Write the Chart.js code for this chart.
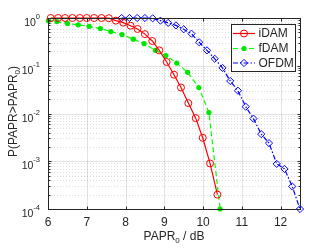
<!DOCTYPE html>
<html>
<head>
<meta charset="utf-8">
<script src="https://cdn.jsdelivr.net/npm/chart.js@4.4.0/dist/chart.umd.min.js"></script>
<style>
  html, body { margin: 0; padding: 0; background: #fff; overflow: hidden; }
  canvas { display: block; }
</style>
</head>
<body>
<canvas id="paprChart" width="332" height="249"></canvas>
<script>
// Data
var idamX = [6.07, 6.26, 6.44, 6.63, 6.82, 7.0, 7.19, 7.38, 7.57, 7.75, 7.94, 8.13, 8.31, 8.5, 8.69, 8.87, 9.06, 9.25, 9.43, 9.62, 9.81, 9.99, 10.18, 10.37];
var idamY = [1, 1, 1, 1, 1, 1, 1, 1, 0.99, 0.88, 0.8, 0.69, 0.59, 0.46, 0.33, 0.21, 0.12, 0.065, 0.035, 0.0165, 0.008, 0.0031, 0.0009, 0.0002];

var fdamX = [6.01, 6.23, 6.5, 6.78, 7.06, 7.35, 7.62, 7.91, 8.2, 8.48, 8.77, 9.04, 9.32, 9.6, 9.89, 10.15, 10.44];
var fdamY = [0.88, 0.84, 0.77, 0.72, 0.67, 0.6, 0.52, 0.45, 0.36, 0.29, 0.21, 0.163, 0.114, 0.073, 0.035, 0.0105, 0.0001];

var ofdmX = [7.9, 8.1, 8.3, 8.5, 8.7, 8.9, 9.1, 9.3, 9.5, 9.7, 9.9, 10.1, 10.3, 10.5, 10.7, 10.9, 11.1, 11.3, 11.5, 11.7, 11.9, 12.1, 12.3, 12.5];
var ofdmY = [1, 1, 1, 1, 0.985, 0.88, 0.79, 0.7, 0.58, 0.47, 0.31, 0.21, 0.14, 0.09, 0.048, 0.03, 0.0139, 0.0078, 0.0037, 0.0024, 0.00088, 0.00069, 0.000296, 0.0001];

var seriesNames = ['iDAM', 'fDAM', 'OFDM'];
var xTicks = [6, 7, 8, 9, 10, 11, 12];
var yTicks = [1e-4, 1e-3, 1e-2, 1e-1, 1];
var yExps = ['-4', '-3', '-2', '-1', '0'];

function toPoints(xs, ys) {
    return xs.map(function(x, i) { return { x: x, y: ys[i] }; });
}

var axisColor = '#262626';
var font = '"Liberation Sans", Arial, sans-serif';

// grid under the data
var gridPlugin = {
    id: 'matlabGrid',
    beforeDatasetsDraw: function(chart) {
        var ctx = chart.ctx, a = chart.chartArea;
        var xs = chart.scales.x, ys = chart.scales.y;
        ctx.save();
        ctx.lineWidth = 1;
        // minor y grid (dotted)
        ctx.strokeStyle = 'rgba(38,38,38,0.16)';
        ctx.setLineDash([1, 2]);
        for (var d = -4; d < 0; d++) {
            for (var m = 2; m <= 9; m++) {
                var py = Math.round(ys.getPixelForValue(m * Math.pow(10, d))) + 0.5;
                ctx.beginPath(); ctx.moveTo(a.left, py); ctx.lineTo(a.right, py); ctx.stroke();
            }
        }
        ctx.setLineDash([]);
        ctx.strokeStyle = 'rgba(38,38,38,0.13)';
        yTicks.forEach(function(v) {
            var py = Math.round(ys.getPixelForValue(v)) + 0.5;
            ctx.beginPath(); ctx.moveTo(a.left, py); ctx.lineTo(a.right, py); ctx.stroke();
        });
        xTicks.forEach(function(v) {
            var px = Math.round(xs.getPixelForValue(v)) + 0.5;
            ctx.beginPath(); ctx.moveTo(px, a.top); ctx.lineTo(px, a.bottom); ctx.stroke();
        });
        ctx.restore();
    }
};

// box, ticks, labels, legend on top
var framePlugin = {
    id: 'matlabFrame',
    afterDatasetsDraw: function(chart) {
        var ctx = chart.ctx, a = chart.chartArea;
        var xs = chart.scales.x, ys = chart.scales.y;
        var L = Math.round(a.left) + 0.5, R = Math.round(a.right) + 0.5;
        var T = Math.round(a.top) + 0.5, B = Math.round(a.bottom) + 0.5;
        ctx.save();
        ctx.strokeStyle = axisColor;
        ctx.lineWidth = 1;
        ctx.strokeRect(L, T, R - L, B - T);

        // ticks
        ctx.beginPath();
        xTicks.forEach(function(v) {
            var px = Math.round(xs.getPixelForValue(v)) + 0.5;
            ctx.moveTo(px, B); ctx.lineTo(px, B - 3);
            ctx.moveTo(px, T); ctx.lineTo(px, T + 3);
        });
        yTicks.forEach(function(v) {
            var py = Math.round(ys.getPixelForValue(v)) + 0.5;
            ctx.moveTo(L, py); ctx.lineTo(L + 3, py);
            ctx.moveTo(R, py); ctx.lineTo(R - 3, py);
        });
        for (var d = -4; d < 0; d++) {
            for (var m = 2; m <= 9; m++) {
                var py = Math.round(ys.getPixelForValue(m * Math.pow(10, d))) + 0.5;
                ctx.moveTo(L, py); ctx.lineTo(L + 2, py);
                ctx.moveTo(R, py); ctx.lineTo(R - 2, py);
            }
        }
        ctx.stroke();

        // x tick labels
        ctx.fillStyle = axisColor;
        ctx.font = '12px ' + font;
        ctx.textAlign = 'center';
        ctx.textBaseline = 'alphabetic';
        xTicks.forEach(function(v) {
            ctx.fillText(String(v), xs.getPixelForValue(v), 225.5);
        });

        // y tick labels 10^n
        ctx.textAlign = 'left';
        yTicks.forEach(function(v, i) {
            var py = ys.getPixelForValue(v);
            ctx.font = '7.5px ' + font;
            var we = ctx.measureText(yExps[i]).width;
            ctx.fillText(yExps[i], 40 - we, py + 1);
            ctx.font = '10.5px ' + font;
            var wb = ctx.measureText('10').width;
            ctx.fillText('10', 40 - we - wb, py + 8);
        });

        // x title: PAPR_0 / dB
        var t1 = 'PAPR', t2 = ' / dB';
        ctx.font = '12px ' + font;
        var w1 = ctx.measureText(t1).width, w3 = ctx.measureText(t2).width;
        ctx.font = '8px ' + font;
        var w2 = ctx.measureText('0').width;
        var cx = (a.left + a.right) / 2;
        var sx = cx - (w1 + w2 + w3) / 2;
        ctx.font = '12px ' + font;
        ctx.fillText(t1, sx, 240);
        ctx.fillText(t2, sx + w1 + w2, 240);
        ctx.font = '8px ' + font;
        ctx.fillText('0', sx + w1, 243);

        // y title: P(PAPR>PAPR_0)
        ctx.save();
        ctx.translate(16.5, (a.top + a.bottom) / 2 - 2);
        ctx.rotate(-Math.PI / 2);
        var s1 = 'P(PAPR>PAPR', s2 = ')';
        ctx.font = '12px ' + font;
        var v1 = ctx.measureText(s1).width, v3 = ctx.measureText(s2).width;
        ctx.font = '8px ' + font;
        var v2 = ctx.measureText('0').width;
        var sy = -(v1 + v2 + v3) / 2;
        ctx.font = '12px ' + font;
        ctx.fillText(s1, sy, 0);
        ctx.fillText(s2, sy + v1 + v2, 0);
        ctx.font = '8px ' + font;
        ctx.fillText('0', sy + v1, 3);
        ctx.restore();

        // legend
        var lx = 231.5, ly = 24.5, lw = 64, lh = 47;
        ctx.fillStyle = '#fff';
        ctx.fillRect(lx, ly, lw, lh);
        ctx.strokeStyle = axisColor;
        ctx.strokeRect(lx, ly, lw, lh);
        var rows = [33.5, 48.5, 63];
        chart.data.datasets.forEach(function(ds, i) {
            var y = rows[i];
            ctx.save();
            ctx.strokeStyle = ds.borderColor;
            ctx.lineWidth = ds.borderWidth;
            ctx.setLineDash(ds.borderDash || []);
            ctx.beginPath(); ctx.moveTo(233, y); ctx.lineTo(255, y); ctx.stroke();
            ctx.setLineDash([]);
            ctx.fillStyle = ds.pointBackgroundColor;
            ctx.strokeStyle = ds.pointBorderColor;
            ctx.lineWidth = ds.pointBorderWidth || 0.001;
            Chart.helpers.drawPoint(ctx, {
                pointStyle: ds.pointStyle,
                radius: ds.pointRadius,
                rotation: 0,
                borderWidth: ds.pointBorderWidth
            }, 244, y);
            ctx.restore();
            ctx.fillStyle = axisColor;
            ctx.font = '12px ' + font;
            ctx.textAlign = 'left';
            ctx.textBaseline = 'middle';
            ctx.fillText(seriesNames[i], 258.5, y + 0.5);
        });
        ctx.restore();
    }
};

var ctx = document.getElementById('paprChart').getContext('2d');
var myChart = new Chart(ctx, {
    type: 'scatter',
    data: {
        datasets: [{
            label: seriesNames[0],
            data: toPoints(idamX, idamY),
            showLine: true,
            borderColor: 'rgb(255,0,0)',
            borderWidth: 1.2,
            pointStyle: 'circle',
            pointRadius: 3.5,
            pointBorderWidth: 1,
            pointBorderColor: 'rgb(255,0,0)',
            pointBackgroundColor: 'rgba(0,0,0,0)',
            clip: false
        }, {
            label: seriesNames[1],
            data: toPoints(fdamX, fdamY),
            showLine: true,
            borderColor: 'rgb(0,255,0)',
            borderWidth: 1.2,
            borderDash: [5, 3],
            pointStyle: 'circle',
            pointRadius: 2.6,
            pointBorderWidth: 0,
            pointBorderColor: 'rgb(0,230,0)',
            pointBackgroundColor: 'rgb(0,230,0)',
            clip: false
        }, {
            label: seriesNames[2],
            data: toPoints(ofdmX, ofdmY),
            showLine: true,
            borderColor: 'rgb(0,0,255)',
            borderWidth: 1.2,
            borderDash: [5, 2, 1.5, 2],
            pointStyle: 'rectRot',
            pointRadius: 3.6,
            pointBorderWidth: 1,
            pointBorderColor: 'rgb(0,0,255)',
            pointBackgroundColor: 'rgba(0,0,0,0)',
            clip: false
        }]
    },
    options: {
        responsive: false,
        animation: false,
        devicePixelRatio: 1,
        layout: { autoPadding: false, padding: { left: 48, top: 18, right: 32, bottom: 40 } },
        plugins: { legend: { display: false }, tooltip: { enabled: false } },
        scales: {
            x: { type: 'linear', display: false, min: 6, max: 12.5 },
            y: { type: 'logarithmic', display: false, min: 1e-4, max: 1 }
        }
    },
    plugins: [gridPlugin, framePlugin]
});
</script>
</body>
</html>
